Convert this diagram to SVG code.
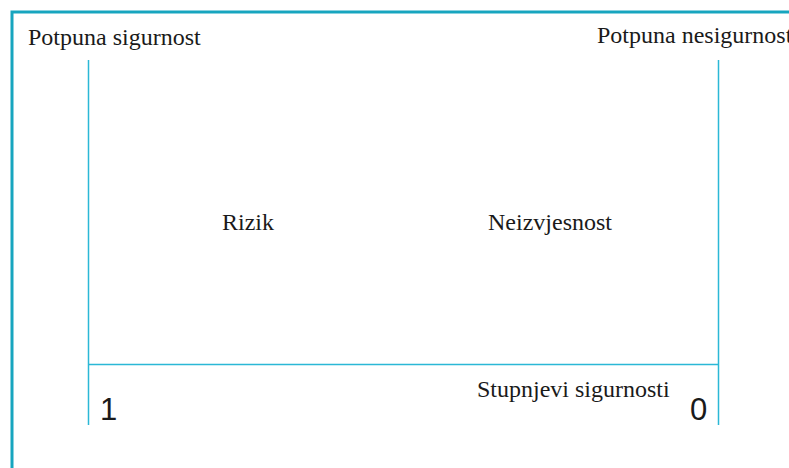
<svg xmlns="http://www.w3.org/2000/svg" width="789" height="468" viewBox="0 0 789 468">
<style>
.frame{fill:none;stroke:#17a5bf;stroke-width:3}
.ln{stroke:#2bb8d6;stroke-width:1.5;fill:none}
.t{font-family:"Liberation Serif",serif;font-size:24px;fill:#1a1a1a}
.n{font-family:"Liberation Sans",Arial,sans-serif;font-size:31px;fill:#1a1a1a}
</style>
<rect class="frame" x="12" y="12" width="800" height="480"/>
<g id="connectors">
<line class="ln" x1="88.5" y1="60" x2="88.5" y2="425"/>
<line class="ln" x1="718.5" y1="60" x2="718.5" y2="425"/>
<line class="ln" x1="88" y1="364.5" x2="719" y2="364.5"/>
</g>
<g id="potpuna-sigurnost"><text class="t" x="28" y="45">Potpuna sigurnost</text></g>
<g id="potpuna-nesigurnost"><text class="t" x="597" y="43">Potpuna nesigurnost</text></g>
<g id="rizik"><text class="t" x="222" y="230">Rizik</text></g>
<g id="neizvjesnost"><text class="t" x="488" y="230">Neizvjesnost</text></g>
<g id="stupnjevi"><text class="t" x="477" y="397">Stupnjevi sigurnosti</text></g>
<g id="one"><text class="n" x="100" y="420">1</text></g>
<g id="zero"><text class="n" x="690" y="420">0</text></g>
</svg>
